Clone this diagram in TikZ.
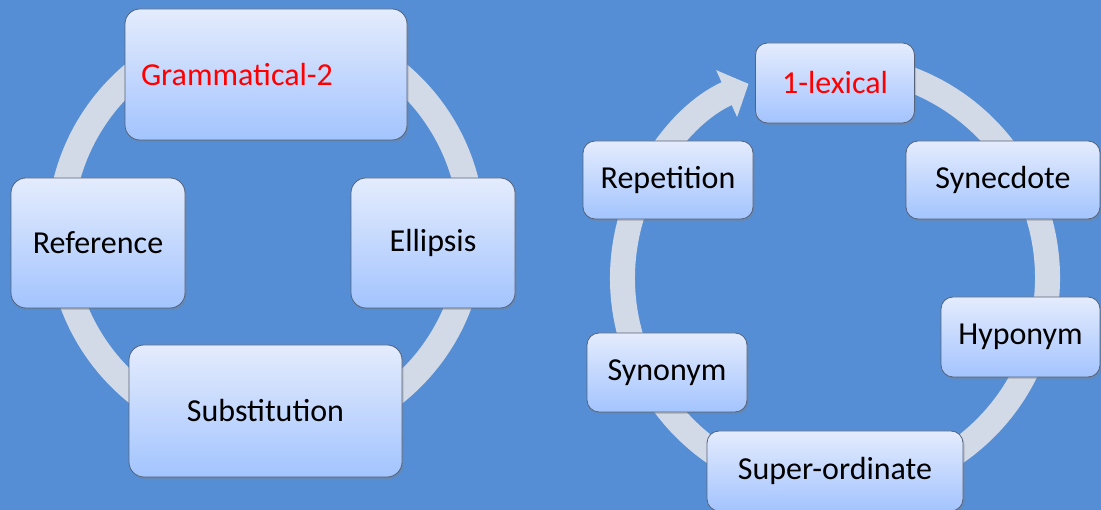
\documentclass[tikz,border=0pt]{standalone}
\usepackage{fontspec}
\setmainfont{Carlito}
\usetikzlibrary{shapes, arrows.meta, shadows}

\definecolor{bgblue}{RGB}{85,142,213}
\definecolor{ringgray}{RGB}{211,218,231}
\definecolor{boxtop}{RGB}{228,236,253}
\definecolor{boxbottom}{RGB}{163,196,254}
\definecolor{boxline}{RGB}{84,98,122}

\begin{document}
\begin{tikzpicture}[
        x = 1pt, y = 1pt,
        every node/.style = {rectangle, rounded corners=15pt, draw=boxline, line width=0.8pt,
            top color=boxtop, bottom color=boxbottom, align=center,
            font=\fontsize{32}{38}\selectfont,
            drop shadow={shadow xshift=1.5pt, shadow yshift=-2pt, opacity=0.35}},
        small/.style = {rounded corners=12pt},
        ring/.style = {draw=ringgray, line width=25pt},
        keyterm/.style = {text=red}
    ]
    % Background
    \fill[bgblue] (0,0) rectangle (1101,510);
    \useasboundingbox (0,0) rectangle (1101,510);

    % Rings
    \draw[ring, line width=26pt] (266,278) circle[radius=206];
    \draw[ring, -{Triangle[width=50pt, length=24pt]}] (835,232) ++(80:212.5)
        arc[start angle=80, end angle=-246, radius=212.5];

    % Nodes, grammatical cohesion
    \node (grammatical) [minimum width=282pt, minimum height=131pt, keyterm,
        text width=250pt, inner xsep=16pt, align=left] at (266,435.5) {Grammatical-2};
    \node (reference) [minimum width=174pt, minimum height=130pt] at (98,267) {Reference};
    \node (ellipsis) [minimum width=164pt, minimum height=130pt] at (433,267) {Ellipsis};
    \node (substitution) [minimum width=273pt, minimum height=132pt] at (265.5,99) {Substitution};

    % Nodes, lexical cohesion
    \node (lexical) [small, keyterm, minimum width=159pt, minimum height=80pt] at (835,427) {1-lexical};
    \node (synecdote) [small, minimum width=194pt, minimum height=78pt] at (1003,330) {Synecdote};
    \node (hyponym) [small, minimum width=159pt, minimum height=80pt] at (1020.5,173) {Hyponym};
    \node (superordinate) [small, minimum width=256pt, minimum height=80pt] at (835,39) {Super-ordinate};
    \node (synonym) [small, minimum width=160pt, minimum height=79pt] at (667,137.5) {Synonym};
    \node (repetition) [small, minimum width=170pt, minimum height=78pt] at (668,330) {Repetition};

\end{tikzpicture}
\end{document}
